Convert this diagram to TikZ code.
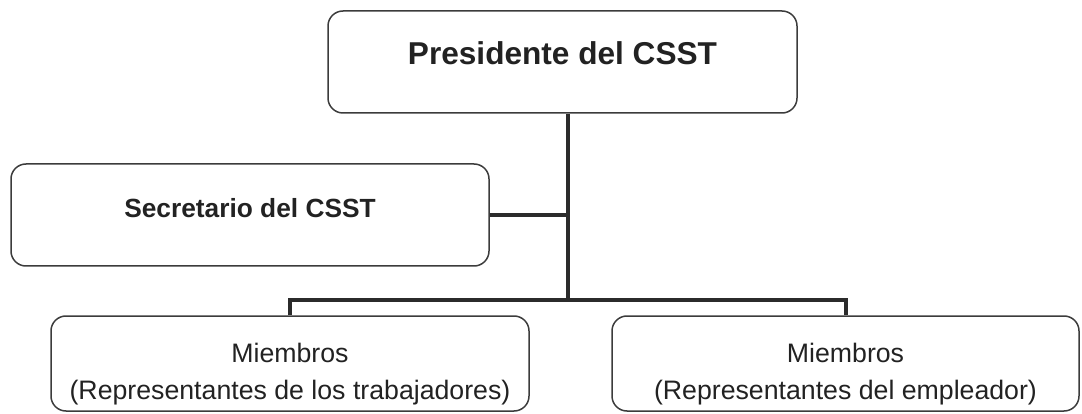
\documentclass[tikz,border=0pt]{standalone}
\usepackage{fontspec}
\setmainfont{Liberation Sans}
\definecolor{boxline}{HTML}{3C3C3C}
\definecolor{connline}{HTML}{2B2B2B}
\definecolor{txt}{HTML}{222222}
\begin{document}
\begin{tikzpicture}[x=1pt, y=-1pt,
  box/.style={draw=boxline, line width=1.5pt, rounded corners=15pt, text=txt, align=center},
  conn/.style={draw=connline, line width=4pt}]
  \useasboundingbox (0,0) rectangle (1082,414);
  \node[box, minimum width=469pt, minimum height=102pt, text height=23pt, text depth=18pt,
        font=\fontsize{31.6}{38}\selectfont\bfseries] (pres) at (562.5,62) {Presidente del CSST};
  \node[box, minimum width=478pt, minimum height=102pt, text height=19pt, text depth=14pt,
        font=\fontsize{26.3}{32}\selectfont\bfseries] (sec) at (250,215) {Secretario del CSST};
  \node[box, minimum width=478pt, minimum height=95pt, text height=77pt, text depth=5pt,
        font=\fontsize{26.7}{37}\selectfont] (trab) at (290,363.5) {Miembros\\(Representantes de los trabajadores)};
  \node[box, minimum width=467pt, minimum height=95pt, text height=77pt, text depth=5pt,
        font=\fontsize{26.7}{37}\selectfont] (empl) at (845.5,363.5) {Miembros\\(Representantes del empleador)};
  \coordinate (bus) at (568,300);
  \draw[conn] (pres.south -| bus) -- (bus);
  \draw[conn] (sec.east) -- (sec.east -| bus);
  \draw[conn] (trab.north) |- (bus) -| (empl.north);
\end{tikzpicture}
\end{document}
